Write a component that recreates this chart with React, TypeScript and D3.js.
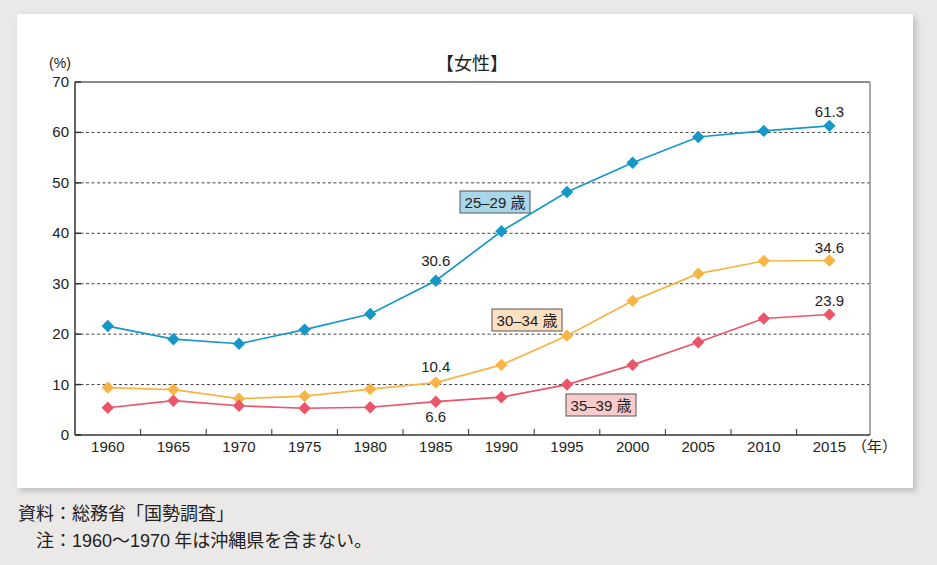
import React from "react";
import * as d3 from "d3";

const years = ["1960","1965","1970","1975","1980","1985","1990","1995","2000","2005","2010","2015"];
const s2529 = [21.6,19.0,18.1,20.9,24.0,30.6,40.4,48.2,54.0,59.1,60.3,61.3];
const s3034 = [9.4,9.0,7.2,7.7,9.1,10.4,13.9,19.7,26.6,32.0,34.5,34.6];
const s3539 = [5.4,6.8,5.8,5.3,5.5,6.6,7.5,10.0,13.9,18.4,23.1,23.9];
const yTicks = [0,10,20,30,40,50,60,70];
const seriesNames = ["25–29 歳","30–34 歳","35–39 歳"];

const W = 937, H = 565;
const L = 75, R = 870, T = 82, B = 435;
const FONT = "'Liberation Sans','Noto Sans CJK JP',Arial,sans-serif";
const JFONT = "'Noto Sans CJK JP','Liberation Sans',sans-serif";

export default function App() {
  const x = d3.scaleBand().domain(years).range([L, L + 12 * 65.6]);
  const y = d3.scaleLinear().domain([0, 70]).range([B, T]);
  const cx = (yr: string) => (x(yr) as number) + x.bandwidth() / 2;
  const line = d3.line<number>().x((_, i) => cx(years[i])).y(d => y(d));
  const series = [
    { vals: s2529, color: "#1598c8", fill: "#a9d7ea", name: seriesNames[0], box: [460, 191], labels: [[5, "30.6", -15], [11, "61.3", -9]] },
    { vals: s3034, color: "#f9b446", fill: "#fde0bf", name: seriesNames[1], box: [492, 309], labels: [[5, "10.4", -11], [11, "34.6", -8]] },
    { vals: s3539, color: "#ea5569", fill: "#f9cbcb", name: seriesNames[2], box: [566, 394], labels: [[5, "6.6", 20], [11, "23.9", -8]] },
  ];
  const diamond = d3.symbol().type(d3.symbolDiamond2).size(98)() as string;
  return (
    <svg width={W} height={H} style={{ position: "absolute", left: 0, top: 0 }}>
      <defs>
        <filter id="sh" x="-5%" y="-5%" width="112%" height="115%">
          <feDropShadow dx="3" dy="3" stdDeviation="3" floodColor="#000" floodOpacity="0.2" />
        </filter>
      </defs>
      <rect x={0} y={0} width={W} height={H} fill="#ebe9e7" />
      <rect x={17} y={14} width={896} height={474} fill="#fff" filter="url(#sh)" />
      <text x={472} y={70} textAnchor="middle" fontFamily={JFONT} fontSize={18} fill="#222">【女性】</text>
      <text x={60} y={68} textAnchor="middle" fontFamily={FONT} fontSize={14} fill="#222">(%)</text>
      {yTicks.filter(t => t > 0 && t < 70).map(t => (
        <line key={t} x1={L} x2={R} y1={y(t)} y2={y(t)} stroke="#444" strokeWidth={1} strokeDasharray="3,2.5" />
      ))}
      <line x1={L} x2={R} y1={T} y2={T} stroke="#8a8a8a" strokeWidth={2} />
      <line x1={R} x2={R} y1={T} y2={B} stroke="#8a8a8a" strokeWidth={1.5} />
      <line x1={L} x2={L} y1={T} y2={B} stroke="#333" strokeWidth={1.5} />
      <line x1={L} x2={R} y1={B} y2={B} stroke="#333" strokeWidth={1.5} />
      {yTicks.map(t => (
        <g key={t}>
          <line x1={L} x2={L + 6} y1={y(t)} y2={y(t)} stroke="#333" strokeWidth={1.5} />
          <text x={69} y={y(t) + 5} textAnchor="end" fontFamily={FONT} fontSize={15} fill="#222">{t}</text>
        </g>
      ))}
      {years.slice(1).map(yr => (
        <line key={yr} x1={x(yr)} x2={x(yr)} y1={B} y2={B - 6} stroke="#333" strokeWidth={1} />
      ))}
      {years.map(yr => (
        <text key={yr} x={cx(yr)} y={452} textAnchor="middle" fontFamily={FONT} fontSize={15} fill="#222">{yr}</text>
      ))}
      <text x={852} y={452} fontFamily={JFONT} fontSize={15} fill="#222">（年）</text>
      {series.map((s, si) => (
        <g key={si}>
          <path d={line(s.vals) as string} fill="none" stroke={s.color} strokeWidth={1.7} />
          {s.vals.map((v, i) => (
            <path key={i} d={diamond} transform={`translate(${cx(years[i])},${y(v)})`} fill={s.color} />
          ))}
          {s.labels.map(([i, txt, dy]: any) => (
            <text key={i} x={cx(years[i])} y={y(s.vals[i]) + dy} textAnchor="middle" fontFamily={FONT} fontSize={15} fill="#222">{txt}</text>
          ))}
          <rect x={s.box[0]} y={s.box[1]} width={70} height={22} fill={s.fill} stroke="#555" strokeWidth={1} />
          <text x={s.box[0] + 35} y={s.box[1] + 16.5} textAnchor="middle" fontFamily={FONT} fontSize={15} fill="#222">{s.name}</text>
        </g>
      ))}
      <text x={18} y={520} fontFamily={JFONT} fontSize={18} fill="#222">資料：総務省「国勢調査」</text>
      <text x={36} y={547} fontFamily={JFONT} fontSize={18} fill="#222">注：<tspan fontFamily={FONT}>1960</tspan>〜<tspan fontFamily={FONT}>1970</tspan> 年は沖縄県を含まない。</text>
    </svg>
  );
}
